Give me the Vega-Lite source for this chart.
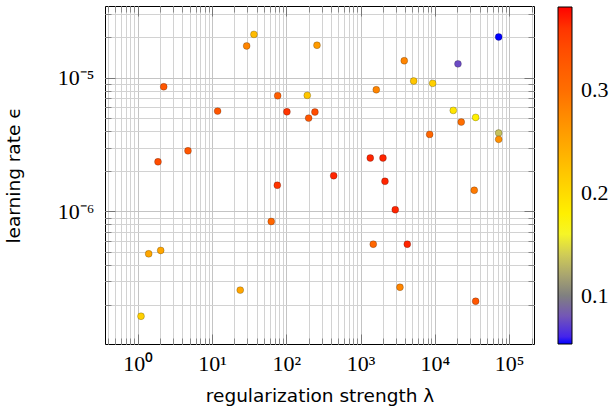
{
  "$schema": "https://vega.github.io/schema/vega-lite/v6.json",
  "width": 429,
  "height": 338,
  "autosize": {"type": "none"},
  "padding": {"left": 105, "top": 6, "right": 78, "bottom": 65},
  "background": "white",
  "config": {
    "view": {"stroke": "black", "strokeWidth": 1},
    "axis": {"domain": false, "labelFont": "Liberation Serif", "labelFontSize": 22, "labelColor": "black", "titleFont": "DejaVu Sans", "titleFontSize": 18.5, "titleFontWeight": "normal", "titleColor": "black"}
  },
  "data": {
    "values": [
      {"l": 36.7, "e": 2.11e-5, "c": 0.23},
      {"l": 29.3, "e": 1.73e-5, "c": 0.28},
      {"l": 259, "e": 1.75e-5, "c": 0.26},
      {"l": 2.24, "e": 8.56e-6, "c": 0.33},
      {"l": 76.6, "e": 7.33e-6, "c": 0.32},
      {"l": 191.7, "e": 7.38e-6, "c": 0.22},
      {"l": 11.9, "e": 5.63e-6, "c": 0.33},
      {"l": 102, "e": 5.56e-6, "c": 0.36},
      {"l": 243, "e": 5.54e-6, "c": 0.34},
      {"l": 200, "e": 4.99e-6, "c": 0.33},
      {"l": 4.75, "e": 2.84e-6, "c": 0.33},
      {"l": 1.876, "e": 2.35e-6, "c": 0.34},
      {"l": 72260, "e": 2.02e-5, "c": 0.053},
      {"l": 3873, "e": 1.34e-5, "c": 0.28},
      {"l": 20460, "e": 1.27e-5, "c": 0.075},
      {"l": 5186, "e": 9.45e-6, "c": 0.22},
      {"l": 9340, "e": 9.08e-6, "c": 0.21},
      {"l": 1627, "e": 8.13e-6, "c": 0.28},
      {"l": 17700, "e": 5.70e-6, "c": 0.19},
      {"l": 35400, "e": 5.05e-6, "c": 0.18},
      {"l": 22650, "e": 4.66e-6, "c": 0.30},
      {"l": 8510, "e": 3.77e-6, "c": 0.31},
      {"l": 72260, "e": 3.86e-6, "c": 0.135},
      {"l": 72260, "e": 3.46e-6, "c": 0.27},
      {"l": 1351, "e": 2.51e-6, "c": 0.37},
      {"l": 2002, "e": 2.51e-6, "c": 0.37},
      {"l": 434.5, "e": 1.85e-6, "c": 0.37},
      {"l": 2130, "e": 1.68e-6, "c": 0.37},
      {"l": 75.7, "e": 1.57e-6, "c": 0.36},
      {"l": 62.8, "e": 8.41e-7, "c": 0.31},
      {"l": 1.406, "e": 4.82e-7, "c": 0.25},
      {"l": 2.04, "e": 5.11e-7, "c": 0.25},
      {"l": 24.0, "e": 2.58e-7, "c": 0.25},
      {"l": 1.108, "e": 1.645e-7, "c": 0.21},
      {"l": 33900, "e": 1.44e-6, "c": 0.29},
      {"l": 2931, "e": 1.03e-6, "c": 0.37},
      {"l": 1482, "e": 5.69e-7, "c": 0.31},
      {"l": 4253, "e": 5.69e-7, "c": 0.37},
      {"l": 3390, "e": 2.71e-7, "c": 0.28},
      {"l": 35400, "e": 2.13e-7, "c": 0.33}
    ]
  },
  "resolve": {"axis": {"x": "independent", "y": "independent"}},
  "layer": [
    {
      "mark": {"type": "point", "opacity": 0},
      "encoding": {
        "x": {"field": "l", "type": "quantitative", "scale": {"type": "log", "domain": [0.363, 216000], "nice": false},
          "axis": {"orient": "bottom", "values": [0.4,0.5,0.6,0.7,0.8,0.9,2,3,4,5,6,7,8,9,20,30,40,50,60,70,80,90,200,300,400,500,600,700,800,900,2000,3000,4000,5000,6000,7000,8000,9000,20000,30000,40000,50000,60000,70000,80000,90000,200000], "grid": true, "gridColor": "#d2d2d2", "labels": false, "ticks": true, "tickSize": -6, "tickColor": "#888888", "title": null, "zindex": 0}},
        "y": {"field": "e", "type": "quantitative", "scale": {"type": "log", "domain": [1.02e-7, 3.44e-5], "nice": false},
          "axis": {"orient": "left", "values": [2e-7,3e-7,4e-7,5e-7,6e-7,7e-7,8e-7,9e-7,2e-6,3e-6,4e-6,5e-6,6e-6,7e-6,8e-6,9e-6,2e-5,3e-5], "grid": true, "gridColor": "#d2d2d2", "labels": false, "ticks": true, "tickSize": -6, "tickColor": "#888888", "title": null, "zindex": 0}}
      }
    },
    {
      "mark": {"type": "point", "opacity": 0},
      "encoding": {
        "x": {"field": "l", "type": "quantitative", "scale": {"type": "log", "domain": [0.363, 216000], "nice": false},
          "axis": {"orient": "bottom", "values": [1,10,100,1000,10000,100000], "grid": true, "gridColor": "#c4c4c4", "labels": false, "ticks": true, "tickSize": -10, "tickColor": "#777777", "title": null, "zindex": 0}},
        "y": {"field": "e", "type": "quantitative", "scale": {"type": "log", "domain": [1.02e-7, 3.44e-5], "nice": false},
          "axis": {"orient": "left", "values": [1e-6, 1e-5], "grid": true, "gridColor": "#c4c4c4", "labels": false, "ticks": true, "tickSize": -10, "tickColor": "#777777", "title": null, "zindex": 0}}
      }
    },
    {
      "mark": {"type": "point", "opacity": 0},
      "encoding": {
        "x": {"field": "l", "type": "quantitative", "scale": {"type": "log", "domain": [0.363, 216000], "nice": false},
          "axis": {"orient": "top", "values": [0.4,0.5,0.6,0.7,0.8,0.9,2,3,4,5,6,7,8,9,20,30,40,50,60,70,80,90,200,300,400,500,600,700,800,900,2000,3000,4000,5000,6000,7000,8000,9000,20000,30000,40000,50000,60000,70000,80000,90000,200000], "grid": false, "labels": false, "ticks": true, "tickSize": -6, "tickColor": "#888888", "title": null, "zindex": 0}},
        "y": {"field": "e", "type": "quantitative", "scale": {"type": "log", "domain": [1.02e-7, 3.44e-5], "nice": false},
          "axis": {"orient": "right", "values": [2e-7,3e-7,4e-7,5e-7,6e-7,7e-7,8e-7,9e-7,2e-6,3e-6,4e-6,5e-6,6e-6,7e-6,8e-6,9e-6,2e-5,3e-5], "grid": false, "labels": false, "ticks": true, "tickSize": -6, "tickColor": "#888888", "title": null, "zindex": 0}}
      }
    },
    {
      "mark": {"type": "point", "opacity": 0},
      "encoding": {
        "x": {"field": "l", "type": "quantitative", "scale": {"type": "log", "domain": [0.363, 216000], "nice": false},
          "axis": {"orient": "top", "values": [1,10,100,1000,10000,100000], "grid": false, "labels": false, "ticks": true, "tickSize": -10, "tickColor": "#777777", "title": null, "zindex": 0}},
        "y": {"field": "e", "type": "quantitative", "scale": {"type": "log", "domain": [1.02e-7, 3.44e-5], "nice": false},
          "axis": {"orient": "right", "values": [1e-6, 1e-5], "grid": false, "labels": false, "ticks": true, "tickSize": -10, "tickColor": "#777777", "title": null, "zindex": 0}}
      }
    },
    {
      "mark": {"type": "point", "filled": true, "size": 48, "opacity": 1, "stroke": "black", "strokeWidth": 1, "strokeOpacity": 0.22},
      "encoding": {
        "x": {"field": "l", "type": "quantitative", "scale": {"type": "log", "domain": [0.363, 216000], "nice": false},
          "axis": {"orient": "bottom", "values": [1,10,100,1000,10000,100000], "grid": false, "ticks": false, "labelPadding": 9, "labelExpr": "datum.value < 5 ? '10⁰' : datum.value < 50 ? '10¹' : datum.value < 500 ? '10²' : datum.value < 5000 ? '10³' : datum.value < 50000 ? '10⁴' : '10⁵'", "title": "regularization strength λ", "titlePadding": 12, "zindex": 1}},
        "y": {"field": "e", "type": "quantitative", "scale": {"type": "log", "domain": [1.02e-7, 3.44e-5], "nice": false},
          "axis": {"orient": "left", "values": [1e-6, 1e-5], "grid": false, "ticks": false, "labelPadding": 11, "labelExpr": "datum.value < 5e-6 ? '10⁻⁶' : '10⁻⁵'", "title": "learning rate ϵ", "titlePadding": 34, "zindex": 1}},
        "color": {"field": "c", "type": "quantitative",
          "scale": {"domain": [0.053, 0.1, 0.165, 0.3, 0.381], "range": ["#0000ff", "#808080", "#ffff00", "#ff6e00", "#ff0000"]},
          "legend": {"orient": "none", "legendX": 453, "legendY": 1, "direction": "vertical", "gradientLength": 337, "gradientThickness": 14, "title": null, "values": [0.1, 0.2, 0.3], "format": ".1f", "labelFont": "Liberation Serif", "labelFontSize": 22, "labelColor": "black", "labelOffset": 9, "gradientStrokeColor": "black", "gradientStrokeWidth": 1, "padding": 0}}
      }
    }
  ]
}
